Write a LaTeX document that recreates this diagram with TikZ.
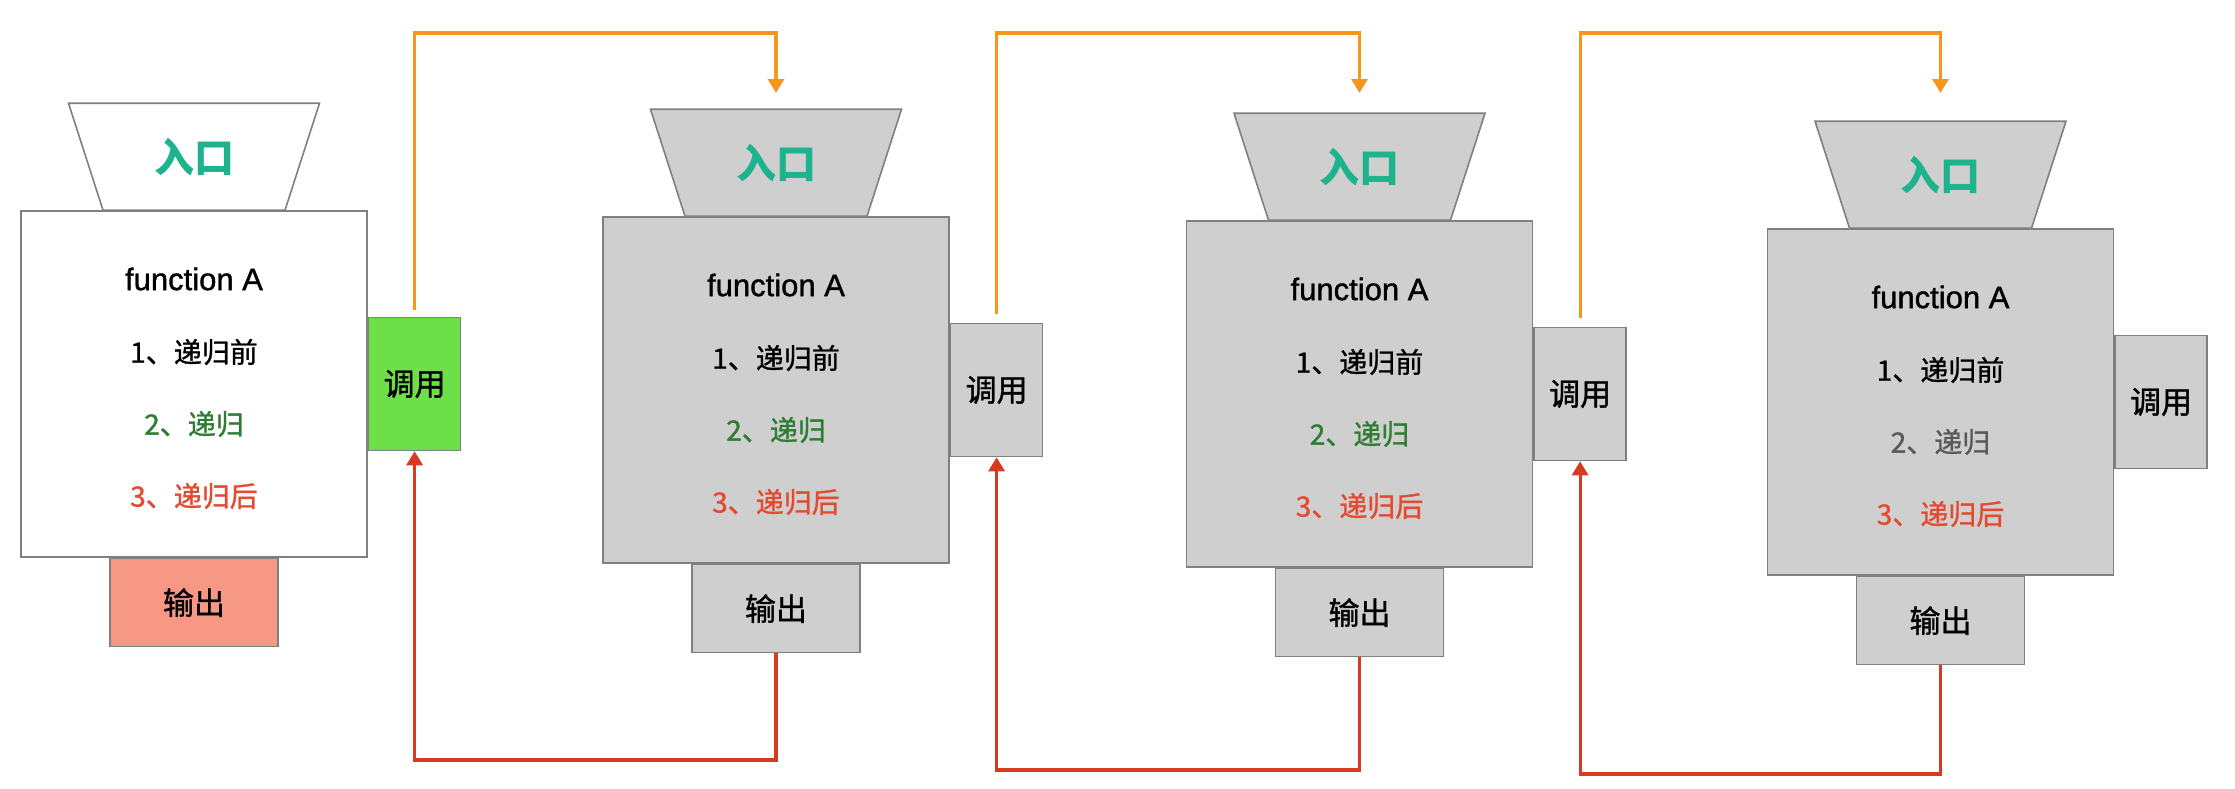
\documentclass[tikz,border=0pt]{standalone}
\usepackage{fontspec}
\setmainfont{Liberation Sans}
\newfontfamily\funfont[FakeBold=1.2]{Liberation Sans}
\newfontfamily\cjk{Noto Sans CJK SC}
\newfontfamily\cjkb[FakeBold=1.1]{Noto Sans CJK SC}
\usetikzlibrary{arrows.meta,calc}
\definecolor{boxgray}{HTML}{CFCFCF}
\definecolor{bordergray}{HTML}{808080}
\definecolor{callgreen}{HTML}{6DE049}
\definecolor{outsalmon}{HTML}{F79885}
\definecolor{entryteal}{HTML}{1DB38D}
\definecolor{greentxt}{HTML}{2E7D32}
\definecolor{redtxt}{HTML}{E34A2F}
\definecolor{graytxt}{HTML}{5A5A5A}
\definecolor{orangeline}{HTML}{F5961E}
\definecolor{redline}{HTML}{D93A1F}
\tikzset{
  mainbox/.style={draw=bordergray, line width=1.6pt, minimum width=346pt, minimum height=346pt, inner sep=0pt},
  trapline/.style={draw=bordergray, line width=1.6pt},
  entrytext/.style={font=\cjk\fontsize{40}{40}\selectfont\bfseries, text=entryteal, minimum height=107pt, inner sep=0pt},
  funtext/.style={font=\funfont\fontsize{31}{31}\selectfont, text=black, inner sep=0pt},
  cjktext/.style={font=\cjkb\fontsize{28}{28}\selectfont, inner sep=0pt},
  callbox/.style={draw=bordergray, line width=1.6pt, minimum width=92pt, minimum height=133pt, inner sep=0pt, font=\cjkb\fontsize{31}{31}\selectfont, text=black},
  outbox/.style={draw=bordergray, line width=1.6pt, minimum width=168pt, minimum height=88pt, inner sep=0pt, font=\cjkb\fontsize{31}{31}\selectfont, text=black},
  orangearrow/.style={draw=orangeline, line width=3.2pt, -{Triangle[length=14pt,width=16pt]}},
  redarrow/.style={draw=redline, line width=3.2pt, -{Triangle[length=14pt,width=16pt]}},
}
% #1 id, #2 cx, #3 rect top, #4 main fill, #5 call fill, #6 out fill, #7 item-2 colour
\newcommand\fblock[7]{%
  \node[mainbox, fill=#4] (m#1) at (#2, #3+173) {};
  \draw[trapline, fill=#4] ([xshift=-125.5pt,yshift=107pt]m#1.north) -- ([xshift=125.5pt,yshift=107pt]m#1.north)
     -- ([xshift=91pt]m#1.north) -- ([xshift=-91pt]m#1.north) -- cycle;
  \node[entrytext] (e#1) at ([yshift=53.5pt]m#1.north) {入口};
  \node[funtext] (f#1) at ([yshift=105pt]m#1.center) {function A};
  \node[cjktext, text=black] (a#1) at ([yshift=32pt]m#1.center) {1、递归前};
  \node[cjktext, text=#7] (b#1) at ([yshift=-40pt]m#1.center) {2、递归};
  \node[cjktext, text=redtxt] (d#1) at ([yshift=-112pt]m#1.center) {3、递归后};
  \node[callbox, fill=#5, anchor=west] (c#1) at (m#1.east) {调用};
  \node[outbox, fill=#6, anchor=north] (o#1) at (m#1.south) {输出};
}
\begin{document}
\begin{tikzpicture}[x=1pt,y=-1pt]
\useasboundingbox[fill=white] (0,0) rectangle (2235,788);
\fblock{1}{194}{211}{white}{callgreen}{outsalmon}{greentxt}
\fblock{2}{776}{217}{boxgray}{boxgray}{boxgray}{greentxt}
\fblock{3}{1359.5}{221}{boxgray}{boxgray}{boxgray}{greentxt}
\fblock{4}{1940.5}{229}{boxgray}{boxgray}{boxgray}{graytxt}
\coordinate (toplvl) at (0,33);
\coordinate (tiplvl) at (0,93);
\coordinate (rlvl1) at (0,760);
\coordinate (rlvl2) at (0,770);
\coordinate (rlvl3) at (0,774);
% calls
\draw[orangearrow] ([yshift=7pt]c1.north) |- (e2.north |- toplvl) -- (e2.north |- tiplvl);
\draw[orangearrow] ([yshift=9pt]c2.north) |- (e3.north |- toplvl) -- (e3.north |- tiplvl);
\draw[orangearrow] ([yshift=9pt]c3.north) |- (e4.north |- toplvl) -- (e4.north |- tiplvl);
% returns
\draw[redarrow] (o2.south) -- (o2.south |- rlvl1) -| (c1.south);
\draw[redarrow] (o3.south) -- (o3.south |- rlvl2) -| (c2.south);
\draw[redarrow] (o4.south) -- (o4.south |- rlvl3) -| (c3.south);
\end{tikzpicture}
\end{document}
